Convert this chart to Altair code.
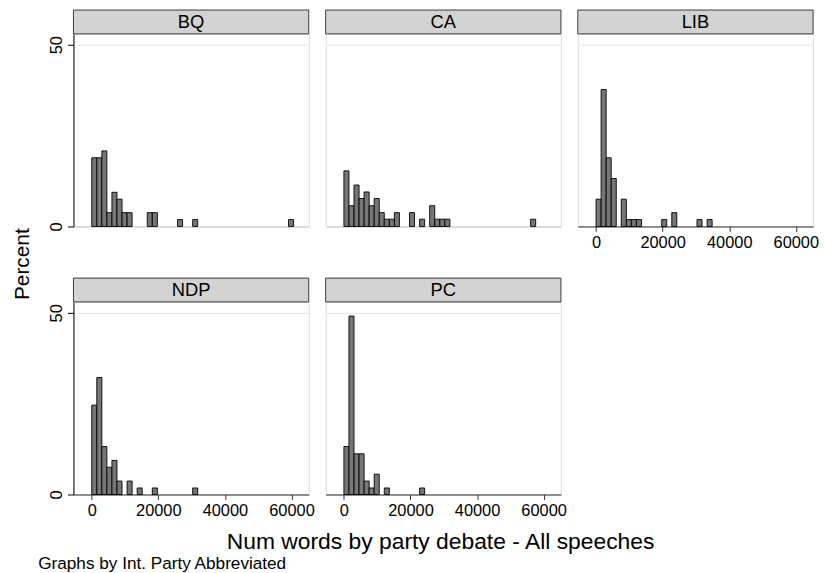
import altair as alt
import pandas as pd

# ---- data (percent of speeches per bin) ----
BIN_START = 0
BIN_WIDTH = 1516

parties = ["BQ", "CA", "LIB", "NDP", "PC"]

bq_bins = [0, 1, 2, 3, 4, 5, 6, 7, 11, 12, 17, 20, 39]
bq_pct = [18.9, 18.9, 20.8, 3.8, 9.4, 7.5, 3.8, 3.8, 3.8, 3.8, 1.9, 1.9, 1.9]

ca_bins = [0, 1, 2, 3, 4, 5, 6, 7, 8, 9, 10, 13, 15, 17, 18, 19, 20, 37]
ca_pct = [15.3, 5.7, 11.4, 7.7, 9.5, 5.7, 7.7, 3.8, 2.0, 2.0, 3.8, 3.8, 2.0, 5.7, 2.0, 2.0, 2.0, 2.0]

lib_bins = [0, 1, 2, 3, 5, 6, 7, 8, 13, 15, 20, 22]
lib_pct = [7.5, 37.7, 18.9, 13.2, 7.5, 1.9, 1.9, 1.9, 1.9, 3.8, 1.9, 1.9]

ndp_bins = [0, 1, 2, 3, 4, 5, 7, 9, 12, 20]
ndp_pct = [24.6, 32.2, 13.2, 7.5, 9.4, 3.7, 3.7, 1.8, 1.8, 1.8]

pc_bins = [0, 1, 2, 3, 4, 5, 6, 8, 15]
pc_pct = [13.2, 49.1, 11.2, 11.2, 3.7, 1.8, 5.6, 1.8, 1.8]

x_ticks = [0, 20000, 40000, 60000]
y_ticks = [0, 50]

x_title = "Num words by party debate - All speeches"
y_title = "Percent"
note = "Graphs by Int. Party Abbreviated"

series = {
    "BQ": (bq_bins, bq_pct),
    "CA": (ca_bins, ca_pct),
    "LIB": (lib_bins, lib_pct),
    "NDP": (ndp_bins, ndp_pct),
    "PC": (pc_bins, pc_pct),
}

rows = []
for p, (bins, pct) in series.items():
    for b, v in zip(bins, pct):
        s = BIN_START + b * BIN_WIDTH
        rows.append({"party": p, "start": s, "end": s + BIN_WIDTH, "pct": v, "base": 0})
bars_df = pd.DataFrame(rows)
party_df = pd.DataFrame({"party": parties})

# ---- styling ----
FONT = "Liberation Sans"
W, H, STRIP = 237, 194, 24
xscale = alt.Scale(domain=[-4000, 63700], nice=False, zero=False)
yscale = alt.Scale(domain=[0, 53], nice=False)


def panel(name, show_x, show_y):
    if show_x:
        xaxis = alt.Axis(values=x_ticks, title=None, labelFontSize=16.5, labelFont=FONT,
                         labelColor="black", tickSize=5, tickColor="#333333",
                         domainColor="#333333", grid=False, labelPadding=3,
                         labelFlush=False, labelOverlap=False, format="d")
    else:
        xaxis = alt.Axis(title=None, labels=False, ticks=False, domainColor="#cccccc",
                         grid=False)
    if show_y:
        yaxis = alt.Axis(values=y_ticks, title=None, labelAngle=270, labelAlign="center",
                         labelBaseline="bottom", labelFontSize=16.5, labelFont=FONT,
                         labelColor="black", tickSize=6, tickColor="black",
                         domainColor="black", grid=True, gridColor="#e6e6e6",
                         labelPadding=3)
    else:
        yaxis = alt.Axis(values=y_ticks, title=None, labels=False, ticks=False,
                         domain=False, grid=True, gridColor="#e6e6e6")

    strip = alt.Chart(party_df).transform_filter(alt.datum.party == name).mark_rect(
        fill="#d3d3d3", stroke="#3a3a3a", strokeWidth=1
    ).encode(x=alt.value(0), x2=alt.value(W), y=alt.value(-STRIP), y2=alt.value(0))

    label = alt.Chart(party_df).transform_filter(alt.datum.party == name).mark_text(
        font=FONT, fontSize=18.5, color="black", baseline="middle", align="center"
    ).encode(text="party:N", x=alt.value(W / 2), y=alt.value(-STRIP / 2))

    bars = alt.Chart(bars_df).transform_filter(alt.datum.party == name).mark_bar(
        fill="#767676", stroke="black", strokeWidth=0.9, orient="vertical"
    ).encode(
        x=alt.X("start:Q", scale=xscale, axis=xaxis),
        x2="end:Q",
        y=alt.Y("pct:Q", scale=yscale, axis=yaxis),
        y2="base:Q",
    )
    return alt.layer(strip, bars, label).properties(width=W, height=H)


top = alt.hconcat(panel("BQ", False, True), panel("CA", False, False),
                  panel("LIB", True, False), spacing=15)
bottom = alt.hconcat(panel("NDP", True, True), panel("PC", True, False), spacing=9)

inner = alt.vconcat(top, bottom, spacing=26).properties(
    title=alt.TitleParams(y_title, orient="left", anchor="middle", font=FONT,
                          fontSize=21, fontWeight="normal", color="black", offset=15)
)
mid = alt.vconcat(inner).properties(
    title=alt.TitleParams(x_title, orient="bottom", anchor="middle", font=FONT,
                          fontSize=23, fontWeight="normal", color="black", offset=12, dx=25)
)
chart = alt.vconcat(mid).properties(
    title=alt.TitleParams(note, orient="bottom", anchor="start", font=FONT,
                          fontSize=17.3, fontWeight="normal", color="black", offset=1, dx=26),
    padding={"left": 12, "top": 7, "right": 5, "bottom": 5},
).configure_view(stroke="#8a8a8a", strokeWidth=1).configure(background="white")

chart.save("out.html", embed_options={"renderer": "svg", "actions": False})
